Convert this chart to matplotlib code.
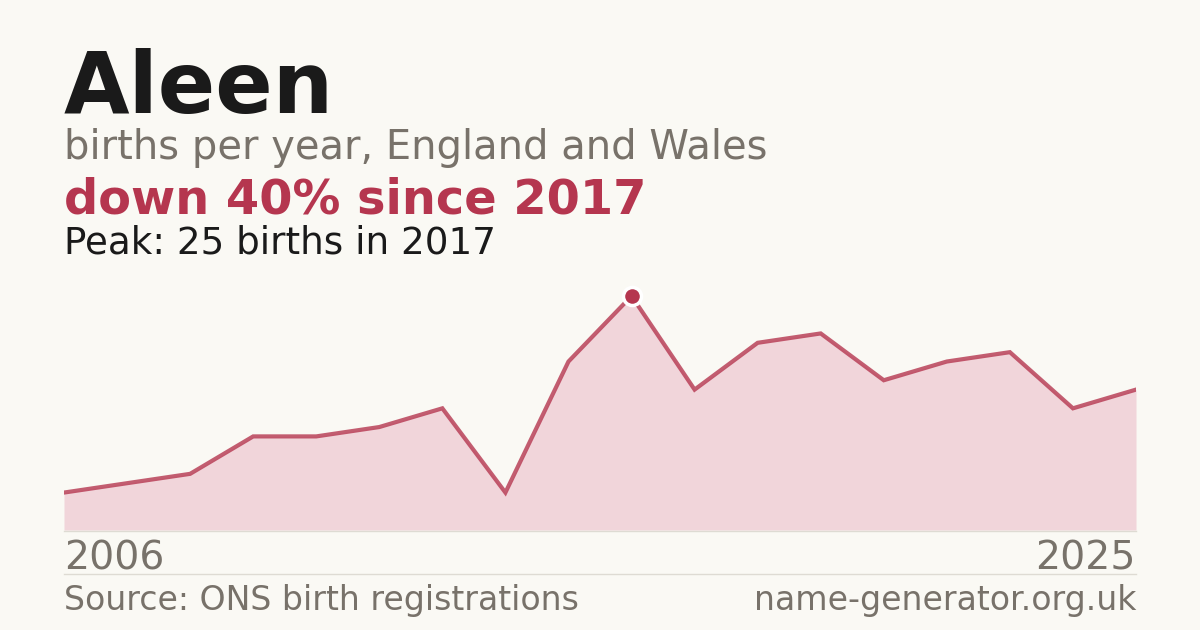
import matplotlib
matplotlib.use("Agg")
import matplotlib.pyplot as plt

# Data
name = "Aleen"
slots = [0, 2, 3, 4, 5, 6, 7, 8, 9, 10, 11, 12, 13, 14, 15, 16, 17]
births = [4, 6, 10, 10, 11, 13, 4, 18, 25, 15, 20, 21, 16, 18, 19, 13, 15]
first_year, last_year = "2006", "2025"
peak_year = "2017"

# Colours
bg = "#faf9f4"
red = "#b5364f"
fill = "#f1d5da"
grey = "#78726a"
dark = "#1a1a1a"

W, H = 1200, 630
fig = plt.figure(figsize=(W / 100, H / 100), dpi=100, facecolor=bg)

def fy(px):
    return 1 - px / H

ax = fig.add_axes([64 / W, fy(530), 1072 / W, 234 / H])
ax.set_facecolor(bg)
ax.fill_between(slots, births, 0, color=fill, linewidth=0)
ax.plot(slots, births, color=red, lw=3, alpha=0.8, solid_joinstyle="miter")
peak_i = births.index(max(births))
ax.plot(slots[peak_i], births[peak_i], "o", ms=13, color=red, mec="white",
        mew=2.5, clip_on=False, zorder=5)
ax.set_xlim(slots[0], slots[-1])
ax.set_ylim(0, max(births))
ax.axis("off")

# Header text
fig.text(64 / W, fy(113), name, fontsize=61, fontweight="bold", color=dark, va="baseline")
fig.text(64 / W, fy(159), "births per year, England and Wales", fontsize=28.8, color=grey, va="baseline")
drop = round((births[peak_i] - births[-1]) / births[peak_i] * 100)
fig.text(64 / W, fy(214), f"down {drop}% since {peak_year}", fontsize=34.5, fontweight="bold",
         color=red, va="baseline")
fig.text(64 / W, fy(253), f"Peak: {births[peak_i]} births in {peak_year}", fontsize=26.8,
         color=dark, va="baseline")

# Axis labels
fig.text(64 / W, fy(569), first_year, fontsize=28.4, color=grey, va="baseline")
fig.text(1136 / W, fy(569), last_year, fontsize=28.4, color=grey, va="baseline", ha="right")

# Rules
fig.add_artist(plt.Line2D([64 / W, 1136 / W], [fy(530.5), fy(530.5)], color="#dedbd3", lw=1))
fig.add_artist(plt.Line2D([64 / W, 1136 / W], [fy(574), fy(574)], color="#dedbd3", lw=1))

# Footer
fig.text(64 / W, fy(610), "Source: ONS birth registrations", fontsize=23.9, color=grey, va="baseline")
fig.text(1136 / W, fy(610), "name-generator.org.uk", fontsize=23.9, color=grey, va="baseline", ha="right")

fig.savefig("out.png", dpi=100, facecolor=bg)
